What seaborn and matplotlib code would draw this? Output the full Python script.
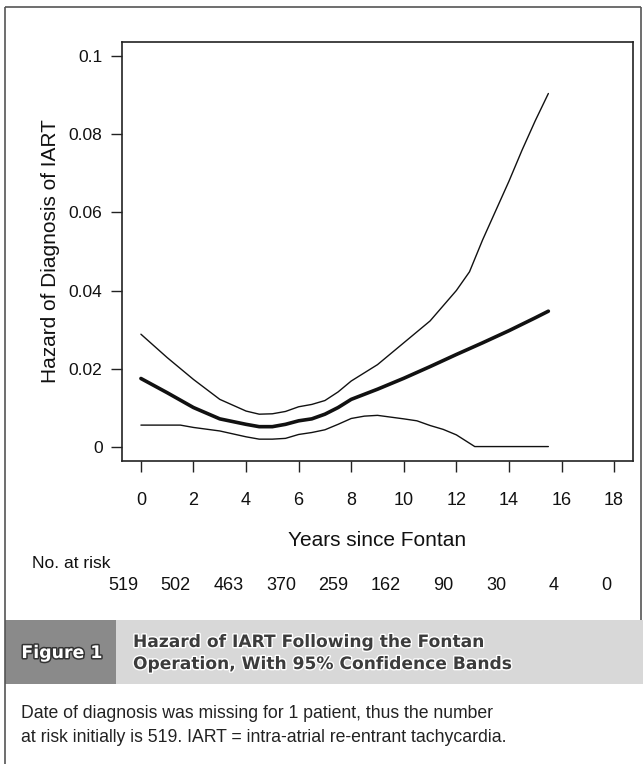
import matplotlib
matplotlib.use("Agg")
import matplotlib.pyplot as plt
import matplotlib.patheffects as pe
from matplotlib.patches import Rectangle
import seaborn as sns

# hazard estimate and 95% confidence bands
hazard_years = [0, 1, 2, 3, 4, 4.5, 5, 5.5, 6, 6.5, 7, 7.5, 8, 9, 10, 11, 12, 13, 14, 15, 15.5]
hazard = [0.01745, 0.0138, 0.0100, 0.0071, 0.0057, 0.0051, 0.0051, 0.0057, 0.0066, 0.0071,
          0.0083, 0.0100, 0.0121, 0.0147, 0.0175, 0.0205, 0.0236, 0.0266, 0.0297, 0.0330, 0.0347]

upper_years = [0, 1, 2, 3, 4, 4.5, 5, 5.5, 6, 6.5, 7, 7.5, 8, 9, 10, 11, 12, 12.5, 13, 13.5,
               14, 14.5, 15, 15.5]
upper = [0.0288, 0.0228, 0.0172, 0.0121, 0.0091, 0.0083, 0.0084, 0.0090, 0.0102, 0.0108,
         0.0118, 0.0140, 0.0168, 0.0210, 0.0266, 0.0322, 0.0400, 0.0448, 0.0530, 0.0605,
         0.0680, 0.0760, 0.0835, 0.0905]

lower_years = [0, 1, 1.5, 2, 3, 4, 4.5, 5, 5.5, 6, 6.5, 7, 7.5, 8, 8.5, 9, 10, 10.5, 11, 11.5,
               12, 12.7, 15.5]
lower = [0.0055, 0.0055, 0.0055, 0.0049, 0.0040, 0.0025, 0.0019, 0.0019, 0.0021, 0.0031,
         0.0036, 0.0043, 0.0057, 0.0072, 0.0078, 0.0080, 0.0071, 0.0066, 0.0054, 0.0044,
         0.0030, 0.0, 0.0]

x_ticks = [0, 2, 4, 6, 8, 10, 12, 14, 16, 18]
at_risk = [519, 502, 463, 370, 259, 162, 90, 30, 4, 0]
y_ticks = [0, 0.02, 0.04, 0.06, 0.08, 0.1]
y_tick_labels = ["0", "0.02", "0.04", "0.06", "0.08", "0.1"]

sns.set_style("white")
plt.rcParams["font.family"] = ["Liberation Sans", "DejaVu Sans"]

W, H = 643, 764
fig = plt.figure(figsize=(W / 100, H / 100), dpi=100)

# page layer in pixel coordinates
bg = fig.add_axes([0, 0, 1, 1])
bg.set_xlim(0, W)
bg.set_ylim(H, 0)
bg.axis("off")

ax = fig.add_axes([122 / W, 1 - 461 / H, 511 / W, 419 / H])
ax.patch.set_alpha(0)

sns.lineplot(x=upper_years, y=upper, ax=ax, color="#111111", linewidth=1.0)
sns.lineplot(x=lower_years, y=lower, ax=ax, color="#111111", linewidth=1.0)
sns.lineplot(x=hazard_years, y=hazard, ax=ax, color="#111111", linewidth=2.6)

ax.set_xlim(-0.72, 18.72)
ax.set_ylim(-0.0037, 0.1037)
ax.set_xticks(x_ticks)
ax.set_yticks(y_ticks)
ax.set_yticklabels(y_tick_labels)
ax.tick_params(axis="both", direction="out", length=8, width=1, color="#222222",
               bottom=True, left=True, labelsize=12.5, labelcolor="#111111")
ax.tick_params(axis="x", labelsize=13, pad=14)
ax.tick_params(axis="y", pad=6)
for s in ax.spines.values():
    s.set_visible(True)
    s.set_color("#222222")
    s.set_linewidth(1.2)

bg.text(51, 251, "Hazard of Diagnosis of IART", rotation=90, ha="center", va="center",
        fontsize=15, color="#111111")
bg.text(377, 540, "Years since Fontan", ha="center", va="center", fontsize=15, color="#111111")
bg.text(32, 563, "No. at risk", ha="left", va="center", fontsize=12.5, color="#111111")
for t, n in zip(x_ticks, at_risk):
    ax.text(t - 0.1, (461 - 586) / 419, str(n), transform=ax.get_xaxis_transform(),
            ha="right", va="center", fontsize=13, color="#111111")

# page border
line_kw = dict(color="#555555", linewidth=1.2, solid_capstyle="butt")
bg.plot([5, 641], [7, 7], **line_kw)
bg.plot([5, 5], [7, 764], **line_kw)
bg.plot([641, 641], [7, 620], **line_kw)

# caption band
bg.add_patch(Rectangle((116, 620), W - 116, 64, facecolor="#d8d8d8", edgecolor="none"))
bg.add_patch(Rectangle((5, 620), 111, 64, facecolor="#8a8a8a", edgecolor="none"))
bg.text(62, 653, "Figure 1", ha="center", va="center", fontsize=12.5, fontweight="bold",
        family="DejaVu Sans", color="white",
        path_effects=[pe.withStroke(linewidth=2.2, foreground="#333333")])
title_kw = dict(ha="left", va="center", fontsize=12.3, fontweight="bold", family="DejaVu Sans",
                color="#3c3c3c", path_effects=[pe.withStroke(linewidth=2, foreground="white")])
bg.text(133, 642, "Hazard of IART Following the Fontan", **title_kw)
bg.text(133, 664, "Operation, With 95% Confidence Bands", **title_kw)

cap_kw = dict(ha="left", va="center", fontsize=12.7, color="#222222")
bg.text(21, 713, "Date of diagnosis was missing for 1 patient, thus the number", **cap_kw)
bg.text(21, 737, "at risk initially is 519. IART = intra-atrial re-entrant tachycardia.", **cap_kw)

fig.savefig("out.png", dpi=100)
